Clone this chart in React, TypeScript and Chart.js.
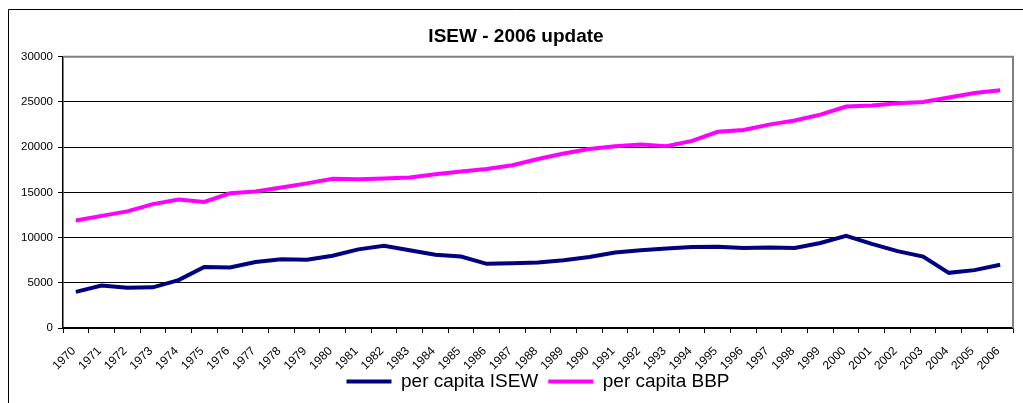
import React, { useEffect, useRef } from "react";
import { Chart, registerables } from "chart.js";

Chart.register(...registerables);

const years: string[] = [
  "1970", "1971", "1972", "1973", "1974", "1975", "1976", "1977", "1978", "1979",
  "1980", "1981", "1982", "1983", "1984", "1985", "1986", "1987", "1988", "1989",
  "1990", "1991", "1992", "1993", "1994", "1995", "1996", "1997", "1998", "1999",
  "2000", "2001", "2002", "2003", "2004", "2005", "2006",
];

const isewPerCapita: number[] = [
  4000, 4700, 4450, 4500, 5300, 6750, 6700, 7300, 7600, 7550,
  8000, 8700, 9100, 8600, 8100, 7900, 7100, 7150, 7250, 7500,
  7850, 8350, 8600, 8800, 8950, 9000, 8850, 8900, 8850, 9400,
  10200, 9300, 8500, 7900, 6100, 6400, 7000,
];

const bbpPerCapita: number[] = [
  11900, 12400, 12900, 13700, 14200, 13950, 14900, 15100, 15550, 16000,
  16500, 16450, 16550, 16650, 17000, 17300, 17600, 18000, 18700, 19300,
  19800, 20100, 20300, 20100, 20700, 21700, 21900, 22500, 22950, 23600,
  24500, 24600, 24850, 25000, 25500, 26000, 26300,
];

const yTicks: number[] = [0, 5000, 10000, 15000, 20000, 25000, 30000];

const titleText = "ISEW - 2006 update";
const seriesNames: string[] = ["per capita ISEW", "per capita BBP"];
const seriesColors: string[] = ["#000080", "#FF00FF"];

const FONT = "'Liberation Sans', Arial, sans-serif";

const framePlugin = {
  id: "frames",
  afterLayout(chart: any) {
    // lift the legend a little so it sits closer to the rotated axis labels
    const lg = chart.legend;
    if (lg) {
      lg.top -= 9;
      lg.bottom -= 9;
    }
  },
  afterDraw(chart: any) {
    const { ctx, chartArea } = chart;
    ctx.save();
    ctx.strokeStyle = "#000000";
    ctx.lineWidth = 1;
    ctx.beginPath();
    ctx.moveTo(8.5, chart.height + 5);
    ctx.lineTo(8.5, 9.5);
    ctx.lineTo(chart.width + 5, 9.5);
    ctx.stroke();
    ctx.strokeStyle = "#808080";
    ctx.lineWidth = 2;
    ctx.beginPath();
    ctx.moveTo(chartArea.left, chartArea.top);
    ctx.lineTo(chartArea.right, chartArea.top);
    ctx.lineTo(chartArea.right, chartArea.bottom);
    ctx.stroke();
    ctx.restore();
  },
};

export default function App() {
  const canvasRef = useRef<HTMLCanvasElement | null>(null);

  useEffect(() => {
    if (!canvasRef.current) return;
    const chart = new Chart(canvasRef.current, {
      type: "line",
      data: {
        labels: years,
        datasets: [
          {
            label: seriesNames[0],
            data: isewPerCapita,
            borderColor: seriesColors[0],
            backgroundColor: seriesColors[0],
            borderWidth: 4,
            pointRadius: 0,
            tension: 0,
          },
          {
            label: seriesNames[1],
            data: bbpPerCapita,
            borderColor: seriesColors[1],
            backgroundColor: seriesColors[1],
            borderWidth: 4,
            pointRadius: 0,
            tension: 0,
          },
        ],
      },
      options: {
        animation: false,
        responsive: false,
        devicePixelRatio: 1,
        layout: { padding: { left: 19, right: 10, top: 0, bottom: 0 } },
        plugins: {
          title: {
            display: true,
            text: titleText,
            color: "#000000",
            font: { family: FONT, size: 19, weight: "bold" },
            padding: { top: 25, bottom: 9 },
          },
          legend: {
            display: true,
            position: "bottom",
            fullSize: false,
            maxHeight: 32,
            labels: {
              color: "#000000",
              font: { family: FONT, size: 19 },
              boxWidth: 45,
              boxHeight: 4,
              padding: 10,
              generateLabels: (c: any) => {
                const items = Chart.defaults.plugins.legend.labels.generateLabels(c);
                return items.map((it: any) => ({ ...it, lineWidth: 0 }));
              },
            },
          },
          tooltip: { enabled: false },
        },
        scales: {
          x: {
            offset: true,
            grid: {
              offset: true,
              drawOnChartArea: false,
              drawTicks: true,
              tickLength: 5,
              color: "#000000",
            },
            border: { display: true, color: "#000000", width: 1.5 },
            ticks: {
              autoSkip: false,
              maxRotation: 45,
              minRotation: 45,
              padding: 11,
              labelOffset: -2,
              color: "#000000",
              font: { family: FONT, size: 12 },
            },
            afterFit: (scale: any) => {
              scale.height = 43;
            },
          },
          y: {
            min: 0,
            max: 30000,
            afterBuildTicks: (scale: any) => {
              scale.ticks = yTicks.map((v) => ({ value: v }));
            },
            grid: {
              color: "#000000",
              lineWidth: 1,
              drawTicks: true,
              tickLength: 5,
            },
            border: { display: true, color: "#000000", width: 1.5 },
            ticks: {
              padding: 5,
              color: "#000000",
              font: { family: FONT, size: 11.5 },
              callback: (value: any) => String(value),
            },
            afterFit: (scale: any) => {
              scale.width = 44;
            },
          },
        },
      },
      plugins: [framePlugin],
    });
    return () => chart.destroy();
  }, []);

  return (
    <div style={{ position: "absolute", left: 0, top: 0, width: 1023, height: 403, background: "#ffffff" }}>
      <canvas ref={canvasRef} width={1023} height={403} />
    </div>
  );
}
